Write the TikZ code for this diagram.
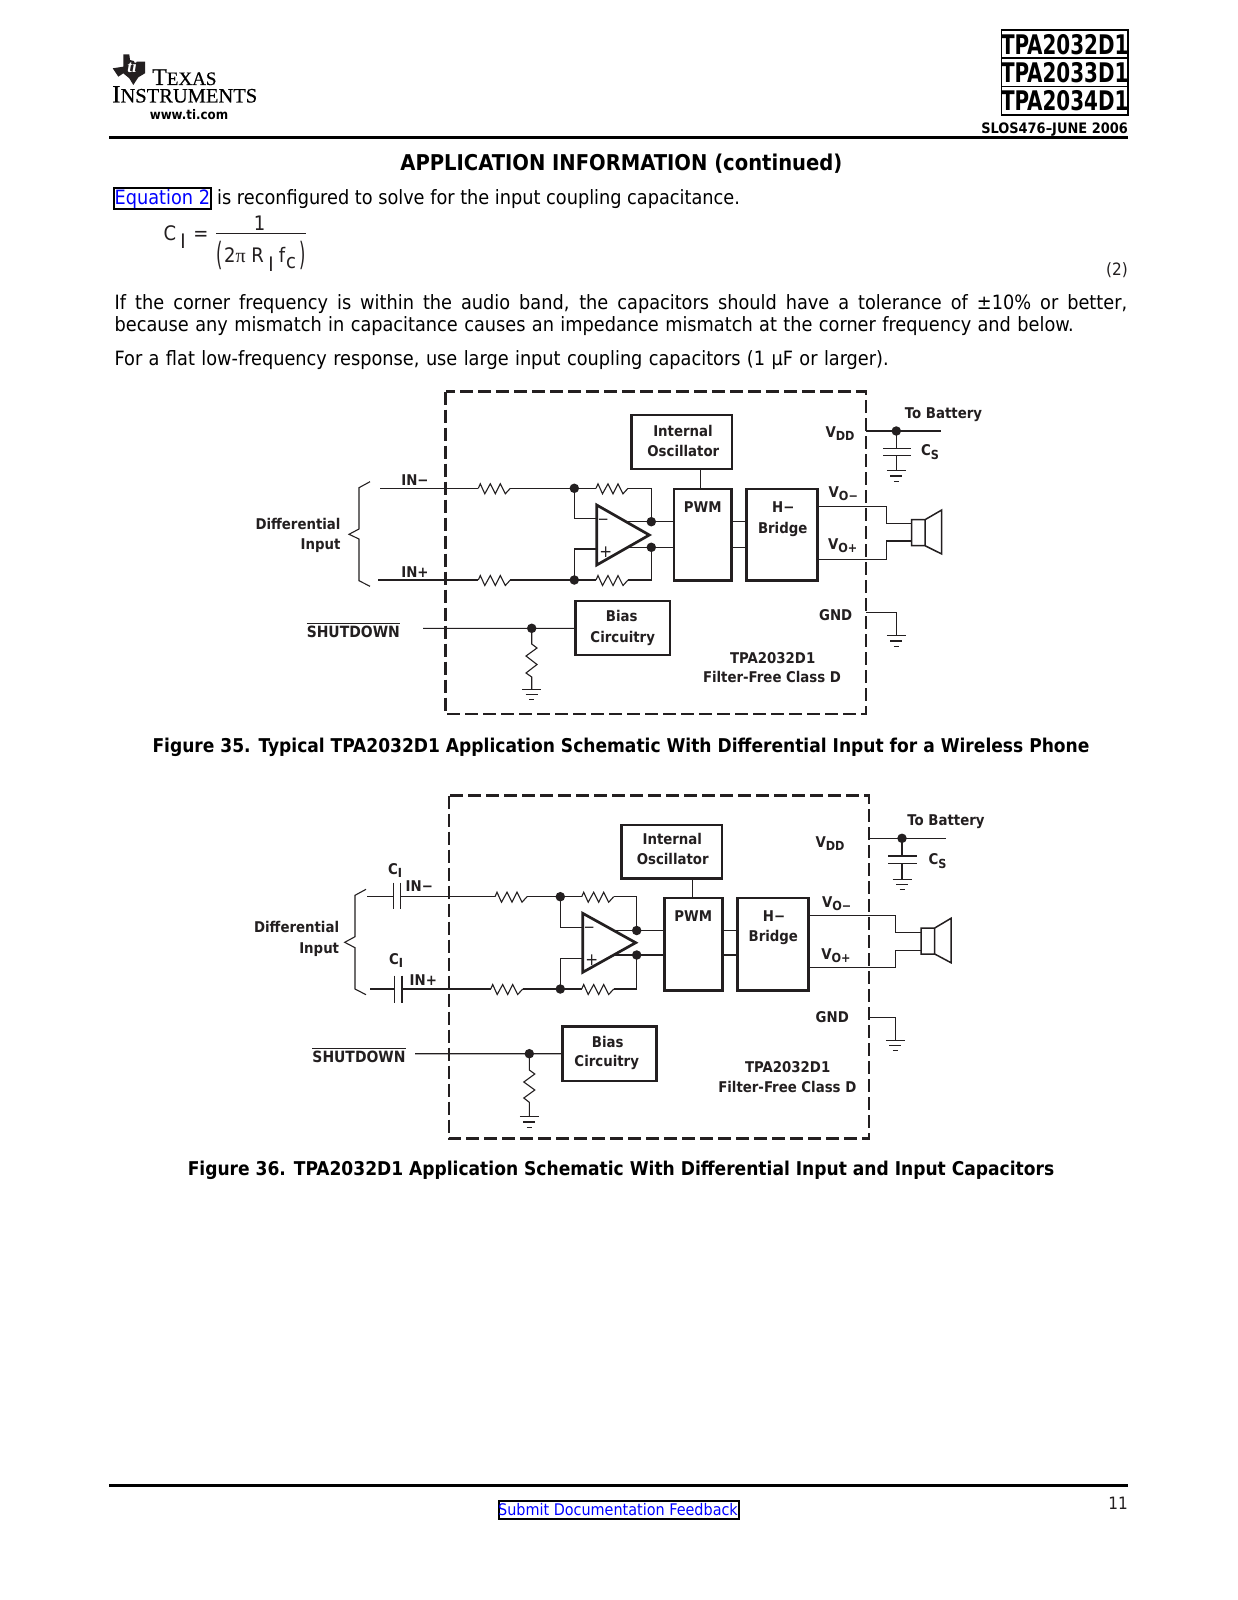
\documentclass[tikz,border=0pt]{standalone}
\usepackage{graphicx}
\usepackage{fontspec}
\setmainfont{DejaVu Sans}
\newfontfamily\cond{DejaVu Sans Condensed}
\newfontfamily\logofont[FakeBold=0.5]{Liberation Serif}
\newfontfamily\piserif{Liberation Serif}
\usetikzlibrary{calc}
\definecolor{ink}{HTML}{231F20}
\newcommand{\Lsub}[2]{#1{\fontsize{12.5}{12.5}\selectfont\raisebox{-3.2pt}{#2}}}
\newcommand{\Sdown}{\vbox{\hrule height 0.7pt\kern 2.2pt\hbox{\fontsize{15.5}{18}\selectfont SHUTDOWN}}}
\tikzset{
  x=1pt,y=-1pt,
  wire/.style={draw=ink,line width=1.1pt},
  blockbox/.style={draw=ink,line width=2.7pt},
  dashbox/.style={draw=ink,line width=2.8pt,dash pattern=on 13pt off 5pt},
  lbl/.style={font=\cond\bfseries\fontsize{14.8}{18}\selectfont,text=ink,inner sep=0pt,align=center},
  lblr/.style={lbl,anchor=east,align=right},
  body/.style={font=\cond\fontsize{19.7}{23}\selectfont,inner sep=0pt,anchor=base west},
  captxt/.style={font=\cond\bfseries\fontsize{19}{24}\selectfont,inner sep=0pt,anchor=base},
  eqn/.style={font=\cond\fontsize{20}{23}\selectfont,text=ink,inner sep=0pt,anchor=base},
  dotn/.style={circle,fill=ink,inner sep=0pt,minimum size=9.5pt},
}
\newcommand{\Resh}[3]{% x0 x1 y
  \draw[wire] (#1,#3) -- ++(2,-4.5) -- ++(4.5,10) -- ++(5.5,-10) -- ++(5,10) -- ++(5,-10) -- ++(5,10) -- ++(5,-5.5);
}
\newcommand{\Gnd}[2]{% x y
  \draw[wire] (#1-9.5,#2) -- (#1+9.5,#2) (#1-6,#2+5.3) -- (#1+6,#2+5.3) (#1-2.5,#2+10.5) -- (#1+2.5,#2+10.5);
}
\begin{document}
\begin{tikzpicture}
\useasboundingbox (0,0) rectangle (1237,1600);
\fill[white] (0,0) rectangle (1237,1600);
% --- header
\fill[ink] (112.7,68.3) -- (123.3,66.7) -- (123.3,54.3) -- (129.3,54.3) -- (130,60) -- (136.7,61.7) -- (145,61.7) -- (145,73.3) -- (138.3,77.3) -- (133.3,85) -- (129.3,78.3) -- (123.3,73.3) -- (118.3,76.7) -- cycle;
\node[fill=none,text=white,font=\piserif\bfseries\itshape\fontsize{17}{17}\selectfont,inner sep=0pt] (tilogo) at (132,67) {ti};
\node[anchor=base west,inner sep=0pt,font=\logofont\fontsize{24}{24}\selectfont] (texas) at (152,85) {T\fontsize{19}{19}\selectfont EXAS};
\node[anchor=base west,inner sep=0pt,font=\logofont\fontsize{25}{25}\selectfont] (instr) at (112,102.5) {I\fontsize{20.5}{20.5}\selectfont NSTRUMENTS};
\node[font=\cond\bfseries\fontsize{13.2}{14}\selectfont,inner sep=0pt] (www) at (189,114.3) {www.ti.com};
\draw[line width=3pt,black] (109,137.3) -- (1128,137.3);
\foreach \yy/\tt in {44.2/TPA2032D1,72.5/TPA2033D1,100.8/TPA2034D1}{
  \draw[black,line width=1.6pt] (1001.5,\yy-14.2) rectangle (1128,\yy+14.2);
  \node[font=\cond\bfseries\fontsize{27}{27}\selectfont,inner sep=0pt] at (1064.7,\yy) {\scalebox{0.82}[1]{\tt}};
}
\node[anchor=base east,font=\cond\bfseries\fontsize{14.4}{14}\selectfont,inner sep=0pt] (slos) at (1128,133) {SLOS476–JUNE 2006};
\node[font=\cond\bfseries\fontsize{21.75}{26}\selectfont,inner sep=0pt] (head) at (621.4,163.5) {APPLICATION INFORMATION (continued)};
% --- text
\draw[black,line width=2pt] (114,188) rectangle (211,208.5);
\node[body,text=blue] (eqlink) at (114.5,204) {Equation 2};
\node[body] (t1) at (217,204) {is reconfigured to solve for the input coupling capacitance.};
\node[eqn] (c1) at (170,240) {C};
\node[eqn] (c2) at (183,248) {I};
\node[eqn] (c3) at (201,240) {=};
\node[eqn] (c4) at (259.5,230) {1};
\draw[ink,line width=1pt] (216,233.5) -- (306,233.5);
\node[eqn] (c5) at (220,265) {\scalebox{0.9}[1.6]{(}};
\node[eqn,anchor=base west] (c6) at (224,262) {2{\piserif π} R};
\node[eqn] (c7) at (271,271) {I};
\node[eqn] (c8) at (282,262) {f};
\node[eqn] (c9) at (291,268) {c};
\node[eqn] (c10) at (303,265) {\scalebox{0.9}[1.6]{)}};
\node[font=\cond\fontsize{17}{20}\selectfont,text=ink,anchor=base east,inner sep=0pt] (eqnum) at (1128,275) {(2)};
\node[body] (p2a) at (114.5,309) {\makebox[1012.5pt][s]{If the corner frequency is within the audio band, the capacitors should have a tolerance of ±10\% or better,}};
\node[body] (p2b) at (114.5,331) {\makebox[959pt][s]{because any mismatch in capacitance causes an impedance mismatch at the corner frequency and below.}};
\node[body] (p3) at (114.5,365.5) {\makebox[774pt][s]{For a flat low-frequency response, use large input coupling capacitors (1 µF or larger).}};
% --- figure 35
\draw[dashbox] (445.7,391.7) rectangle (866,714);
\draw[blockbox] (631.7,415) rectangle (732,469);
\draw[blockbox] (674,489) rectangle (731.7,580.7);
\draw[blockbox] (746.7,489) rectangle (817.7,580.7);
\draw[blockbox] (575.7,601) rectangle (670,655);
\draw[wire] (380,488.3) -- (478.3,488.3) (510.3,488.3) -- (596,488.3) (628,488.3) -- (651.3,488.3) -- (651.3,521.7);
\draw[wire] (378,580) -- (478.3,580) (510.3,580) -- (596,580) (628,580) -- (651.3,580) -- (651.3,547.3);
\Resh{478.3}{510.7}{488.3}\Resh{596}{628.3}{488.3}\Resh{478.3}{510.7}{580}\Resh{596}{628.3}{580}
\draw[wire] (574.3,488.3) -- (574.3,518.3) -- (596.7,518.3) (574.3,580) -- (574.3,549) -- (596.7,549);
\draw[ink,line width=2.7pt,line join=miter] (596.7,505) -- (649.3,535) -- (596.7,565) -- cycle;
\draw[wire] (627,521.7) -- (674,521.7) (627,547.3) -- (674,547.3) (731.7,521.7) -- (746.7,521.7) (731.7,547.3) -- (746.7,547.3) (700.3,469) -- (700.3,489);
\foreach \p in {(574.3,488.3),(574.3,580),(651.3,521.7),(651.3,547.3),(531.7,628.3),(896.3,431)}{\node[dotn] at \p {};}
\draw[wire] (423,628.3) -- (575.7,628.3) (531.7,628.3) -- (531.7,644) -- (537,648) -- (526,656) -- (537,664.5) -- (526,673) -- (531.7,677) -- (531.7,689.3);
\Gnd{531.7}{689.3}
\draw[wire] (370,481.7) -- (359,487.7) -- (359,529) -- (349,534.3) -- (359,539) -- (359,580.7) -- (370,586.3);
\node[lbl] (a1) at (415,480.3) {IN−};
\node[lbl] (a2) at (415,571.7) {IN+};
\node[lblr] (a3) at (340.7,524.3) {Differential};
\node[lblr] (a4) at (340.7,545.5) {Input};
\node[lblr,anchor=base east] (a5) at (400,637) {\Sdown};
\draw[wire] (866,431) -- (940.7,431) (896.3,431) -- (896.3,448.3) (883.3,448.3) -- (910.7,448.3) (883.3,455.3) -- (910.7,455.3) (896.3,455.3) -- (896.3,470.7);
\Gnd{896.3}{470.7}
\draw[wire] (866,612.3) -- (896.3,612.3) -- (896.3,635.7);
\Gnd{896.3}{635.7}
\draw[wire] (817.7,506.3) -- (886.7,506.3) -- (886.7,523.3) -- (911.7,523.3) (817.7,559.3) -- (886.7,559.3) -- (886.7,541) -- (911.7,541);
\draw[ink,line width=1.5pt] (911.7,519.7) rectangle (925,545.7) (925,519.7) -- (941.7,510) -- (941.7,554) -- (925,545.7);
\node[lbl] (a6) at (943.5,415) {To Battery};
\node[lbl] (a7) at (840,434) {\Lsub{V}{DD}};
\node[lbl] (a8) at (930,452) {\Lsub{C}{S}};
\node[lbl] (a9) at (843.3,494) {\Lsub{V}{O−}};
\node[lbl] (a10) at (842.7,546) {\Lsub{V}{O+}};
\node[lbl] (a11) at (835.7,615) {GND};
\node[lbl] (a12) at (772.7,657.7) {TPA2032D1};
\node[lbl] (a13) at (772,677.3) {Filter-Free Class D};
\node[lbl] (a14) at (683,430.7) {Internal};
\node[lbl] (a15) at (683.3,450.7) {Oscillator};
\node[lbl] (a16) at (702.7,506.7) {PWM};
\node[lbl] (a17) at (783.3,506.7) {H−};
\node[lbl] (a18) at (782.7,529) {Bridge};
\node[lbl] (a19) at (621.7,615.7) {Bias};
\node[lbl] (a20) at (622.7,638) {Circuitry};
\node[lbl,font=\cond\fontsize{15}{15}\selectfont] (a21) at (603.3,521.7) {−};
\node[lbl,font=\cond\fontsize{17}{15}\selectfont] (a22) at (605.7,551.7) {+};
\node[captxt] (cap1) at (621,752) {Figure 35. Typical TPA2032D1 Application Schematic With Differential Input for a Wireless Phone};
% --- figure 36
\draw[dashbox] (449,795.7) rectangle (869,1138.6);
\draw[blockbox] (621.7,825) rectangle (722,878.7);
\draw[blockbox] (664.7,898) rectangle (722.7,990.3);
\draw[blockbox] (737.7,898) rectangle (808.7,990.3);
\draw[blockbox] (562.3,1026.7) rectangle (656.3,1081);
\draw[wire] (367.3,896.7) -- (393.7,896.7) (400.3,896.7) -- (495,896.7) (527,896.7) -- (581.7,896.7) (613.7,896.7) -- (636.7,896.7) -- (636.7,930.5);
\draw[wire] (370,989) -- (394.7,989) (402,989) -- (490.7,989) (522.7,989) -- (581.7,989) (613.7,989) -- (636.7,989) -- (636.7,955);
\draw[wire] (393.7,882.7) -- (393.7,909.3) (400.3,882.7) -- (400.3,909.3) (394.7,975.7) -- (394.7,1003.3) (402,975.7) -- (402,1003.3);
\Resh{495}{527.3}{896.7}\Resh{581.7}{614}{896.7}\Resh{490.7}{523.3}{989}\Resh{581.7}{614}{989}
\draw[wire] (560.3,896.7) -- (560.3,927.3) -- (582.7,927.3) (560.3,989) -- (560.3,958.3) -- (582.7,958.3);
\draw[ink,line width=2.7pt,line join=miter] (582.7,913.3) -- (635.7,942.7) -- (582.7,972.3) -- cycle;
\draw[wire] (613,930.5) -- (664.7,930.5) (613,955) -- (664.7,955) (722.7,930.5) -- (737.7,930.5) (722.7,955) -- (737.7,955) (692.3,878.7) -- (692.3,898);
\foreach \p in {(560.3,896.7),(560.3,989),(636.7,930.5),(636.7,955),(529.3,1053.7),(902,838.3)}{\node[dotn] at \p {};}
\draw[wire] (415,1053.7) -- (562.3,1053.7) (529.3,1053.7) -- (529.3,1070) -- (534.8,1074) -- (523.8,1082) -- (534.8,1090) -- (523.8,1098) -- (529.3,1102.3) -- (529.3,1116.7);
\Gnd{529.3}{1116.7}
\draw[wire] (366,889.3) -- (355,895.3) -- (355,936.7) -- (344.7,942.3) -- (355,947.7) -- (355,989) -- (366,994.7);
\node[lbl] (b1) at (395,870.5) {\Lsub{C}{I}};
\node[lbl] (b2) at (419.3,885.7) {IN−};
\node[lbl] (b3) at (396,960.5) {\Lsub{C}{I}};
\node[lbl] (b4) at (423.3,980) {IN+};
\node[lblr] (b5) at (339.3,927.3) {Differential};
\node[lblr] (b6) at (339.3,949.5) {Input};
\node[lblr,anchor=base east] (b7) at (405.7,1062) {\Sdown};
\draw[wire] (870,838.3) -- (945.7,838.3) (902,838.3) -- (902,856) (888.3,856) -- (916.7,856) (888.3,863.3) -- (916.7,863.3) (902,863.3) -- (902,879.3);
\Gnd{902}{879.3}
\draw[wire] (870,1017.3) -- (895.3,1017.3) -- (895.3,1040.3);
\Gnd{895.3}{1040.3}
\draw[wire] (808.7,915.3) -- (895.7,915.3) -- (895.7,932.7) -- (921,932.7) (808.7,967.3) -- (895.7,967.3) -- (895.7,950.3) -- (921,950.3);
\draw[ink,line width=1.5pt] (921,928) rectangle (934.7,954) (934.7,928) -- (951,918.3) -- (951,962.7) -- (934.7,954);
\node[lbl] (b8) at (946,822) {To Battery};
\node[lbl] (b9) at (830,843.5) {\Lsub{V}{DD}};
\node[lbl] (b10) at (937.5,861) {\Lsub{C}{S}};
\node[lbl] (b11) at (836.7,904) {\Lsub{V}{O−}};
\node[lbl] (b12) at (836,956) {\Lsub{V}{O+}};
\node[lbl] (b13) at (832.3,1016.7) {GND};
\node[lbl] (b14) at (787.7,1067.3) {TPA2032D1};
\node[lbl] (b15) at (787.3,1087.3) {Filter-Free Class D};
\node[lbl] (b16) at (672.3,839.3) {Internal};
\node[lbl] (b17) at (672.7,859.3) {Oscillator};
\node[lbl] (b18) at (693.3,916) {PWM};
\node[lbl] (b19) at (774,916) {H−};
\node[lbl] (b20) at (773.3,937.5) {Bridge};
\node[lbl] (b21) at (607.7,1041.7) {Bias};
\node[lbl] (b22) at (606.7,1062.3) {Circuitry};
\node[lbl,font=\cond\fontsize{15}{15}\selectfont] (b23) at (589.3,930) {−};
\node[lbl,font=\cond\fontsize{17}{15}\selectfont] (b24) at (591.7,960) {+};
\node[captxt] (cap2) at (621,1175.5) {Figure 36. TPA2032D1 Application Schematic With Differential Input and Input Capacitors};
% --- footer
\draw[line width=3pt,black] (109,1485.5) -- (1128,1485.5);
\draw[black,line width=2pt] (498.5,1501) rectangle (738.5,1519);
\node[font=\cond\fontsize{16}{20}\selectfont,text=blue,inner sep=0pt,anchor=base] (foot) at (618,1515) {Submit Documentation Feedback};
\node[font=\cond\fontsize{17}{20}\selectfont,text=ink,inner sep=0pt,anchor=base east] (pg) at (1128,1509.5) {11};
\end{tikzpicture}
\end{document}
